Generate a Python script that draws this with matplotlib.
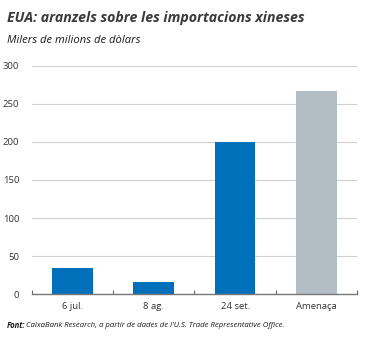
import matplotlib.pyplot as plt
from matplotlib.ticker import FixedLocator

# Data
categories = ["6 jul.", "8 ag.", "24 set.", "Amenaça"]
values = [34, 16, 200, 267]
bar_colors = ["#0070BA", "#0070BA", "#0070BA", "#B3BEC4"]
y_ticks = [0, 50, 100, 150, 200, 250, 300]

plt.rcParams['font.family'] = ['Open Sans', 'DejaVu Sans']

fig = plt.figure(figsize=(3.75, 3.38), dpi=100)
fig.set_facecolor("white")
ax = fig.add_axes([0.085, 0.13, 0.867, 0.675])

x = range(len(categories))
ax.bar(x, values, width=0.5, color=bar_colors, zorder=3)

ax.set_xlim(-0.5, len(categories) - 0.5)
ax.set_ylim(0, 300)
ax.set_yticks(y_ticks)
ax.set_yticklabels([str(t) for t in y_ticks], fontsize=6.8, color="#333333")
ax.tick_params(axis="y", length=0, pad=9)
ax.grid(axis="y", color="#D0D0D0", linewidth=0.8, zorder=0)

ax.set_xticks(list(x))
ax.set_xticklabels(categories, fontsize=6.8, color="#333333")
ax.tick_params(axis="x", which="major", length=0, pad=6)
ax.xaxis.set_minor_locator(FixedLocator([i - 0.5 for i in range(len(categories) + 1)]))
ax.tick_params(axis="x", which="minor", length=3, direction="in", color="#666666", width=0.8)

for side in ["top", "right", "left"]:
    ax.spines[side].set_visible(False)
ax.spines["bottom"].set_color("#777777")
ax.spines["bottom"].set_linewidth(1.0)
ax.spines["bottom"].set_zorder(4)

fig.text(0.019, 0.947, "EUA: aranzels sobre les importacions xineses",
         fontsize=10.2, fontweight="bold", style="italic", color="#3A3A3A", va="center")
fig.text(0.019, 0.879, "Milers de milions de dòlars",
         fontsize=8.1, style="italic", color="#1A1A1A", va="center")
fig.text(0.019, 0.038, "Font:", fontsize=5.6, fontweight="bold", style="italic",
         color="#1A1A1A", va="center")
fig.text(0.069, 0.038, "CaixaBank Research, a partir de dades de l'U.S. Trade Representative Office.",
         fontsize=5.6, style="italic", color="#1A1A1A", va="center")

fig.savefig("out.png", dpi=100)
